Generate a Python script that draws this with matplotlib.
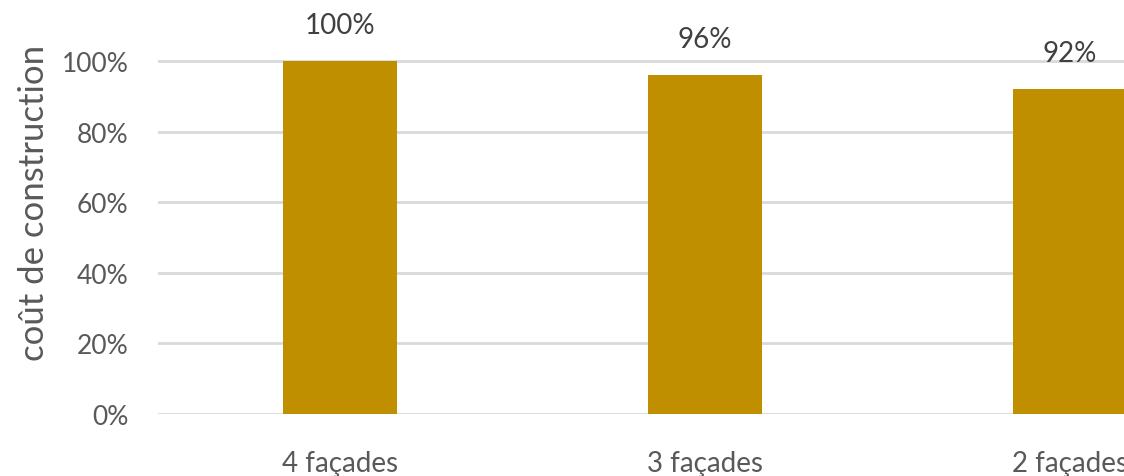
import matplotlib.pyplot as plt
from matplotlib.ticker import PercentFormatter

categories = ['4 façades', '3 façades', '2 façades']
values = [1.00, 0.96, 0.92]
labels = ['100%', '96%', '92%']

plt.rcParams['font.family'] = ['Lato', 'DejaVu Sans']

fig = plt.figure(figsize=(11.24, 4.77), dpi=100)
# axes runs past the right edge, like the cropped original
ax = fig.add_axes([157.5 / 1124, 62 / 477, 1095 / 1124, 1.2 * 353 / 477])

x = range(len(categories))
bars = ax.bar(x, values, width=0.315, color='#BF8F00', zorder=3)
for b, lab in zip(bars, labels):
    ax.annotate(lab, (b.get_x() + b.get_width() / 2, b.get_height()),
                xytext=(0, 26), textcoords='offset points', ha='center', va='center',
                fontsize=20, color='#404040', annotation_clip=False)

ax.set_xlim(-0.5, 2.5)
ax.set_ylim(0, 1.2)
ax.set_yticks([0, 0.2, 0.4, 0.6, 0.8, 1.0])
ax.yaxis.set_major_formatter(PercentFormatter(1.0, decimals=0))
ax.set_xticks(list(x))
ax.set_xticklabels(categories)
ax.grid(axis='y', color='#D9D9D9', linewidth=2, zorder=0)
for s in ax.spines.values():
    s.set_visible(False)
ax.tick_params(length=0, labelcolor='#595959')
ax.tick_params(axis='x', labelsize=20, pad=26)
ax.tick_params(axis='y', labelsize=19, pad=21)
ax.set_ylabel('coût de construction', fontsize=25, color='#595959')
ax.yaxis.set_label_coords(-0.0985, 0.50)

fig.savefig('out.png', dpi=100)
